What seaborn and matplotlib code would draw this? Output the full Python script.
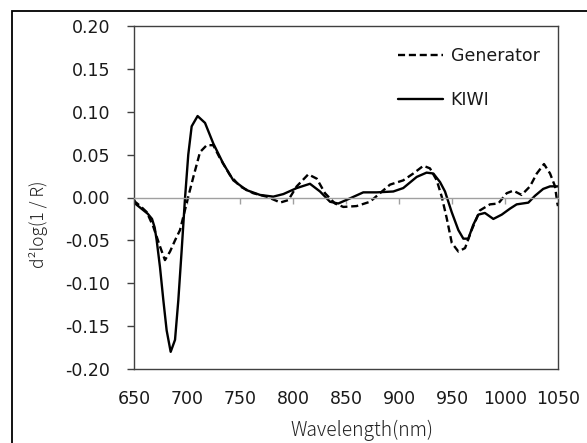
import matplotlib
matplotlib.use("Agg")
import matplotlib.pyplot as plt
import seaborn as sns
import pandas as pd
from matplotlib.patches import Rectangle

wl_kiwi = [650, 651, 655, 659, 663, 667, 669.5, 671.4, 674.5, 677.7, 680.8, 684.6, 688.7,
           691.8, 695, 698, 701.2, 704.4, 710, 717, 724.8, 734, 743.7, 756, 768.9, 781.4,
           790.9, 803.5, 816, 825.5, 835, 842.7, 853.8, 866.3, 879, 894.6, 904, 916.7, 926,
           932.4, 938.7, 943.4, 949.7, 956, 960.7, 965.4, 970, 974.8, 981, 989, 996.9,
           1004.7, 1011, 1022, 1028.3, 1036, 1042.5, 1050]
val_kiwi = [-0.003, -0.007, -0.011, -0.015, -0.019, -0.025, -0.035, -0.050, -0.081, -0.120,
            -0.155, -0.180, -0.166, -0.120, -0.061, -0.003, 0.050, 0.083, 0.095, 0.087,
            0.063, 0.040, 0.020, 0.0087, 0.003, 0.001, 0.004, 0.011, 0.016, 0.007, -0.005,
            -0.007, -0.001, 0.006, 0.006, 0.007, 0.011, 0.024, 0.029, 0.028, 0.018, 0.007,
            -0.017, -0.038, -0.048, -0.048, -0.032, -0.020, -0.018, -0.025, -0.020, -0.013,
            -0.008, -0.006, 0.002, 0.010, 0.013, 0.013]

wl_gen = [650, 651, 656, 662, 668.2, 674.5, 679.2, 684, 688.7, 693.4, 698, 701.2, 706,
          712.3, 718.6, 724.8, 731, 740.6, 750, 762.5, 775, 784.6, 787.7, 795.6, 803.5,
          814.4, 822.4, 830.2, 839.6, 847.5, 860, 872.6, 882, 891.5, 904, 913.5, 923,
          929.2, 935.6, 940.3, 945, 949.8, 956, 962.3, 968.5, 976.4, 985.8, 993.7, 1001.6,
          1007.8, 1015.7, 1023.6, 1030, 1036.8, 1042.5, 1047.2, 1049.4, 1050]
val_gen = [-0.003, -0.005, -0.010, -0.017, -0.034, -0.057, -0.073, -0.063, -0.050, -0.038,
           -0.015, 0.001, 0.024, 0.053, 0.061, 0.061, 0.046, 0.026, 0.013, 0.005, 0.001,
           -0.004, -0.006, -0.003, 0.013, 0.027, 0.022, 0.005, -0.007, -0.011, -0.010,
           -0.005, 0.005, 0.015, 0.020, 0.028, 0.037, 0.034, 0.020, 0.001, -0.024, -0.053,
           -0.063, -0.059, -0.038, -0.015, -0.008, -0.007, 0.005, 0.008, 0.003, 0.013,
           0.028, 0.039, 0.028, 0.013, -0.007, -0.010]

series_names = ["Generator", "KIWI"]
x_ticks = [650, 700, 750, 800, 850, 900, 950, 1000, 1050]
y_ticks = [-0.20, -0.15, -0.10, -0.05, 0.00, 0.05, 0.10, 0.15, 0.20]

df = pd.concat([
    pd.DataFrame({"wl": wl_gen, "val": val_gen, "series": series_names[0]}),
    pd.DataFrame({"wl": wl_kiwi, "val": val_kiwi, "series": series_names[1]}),
])

sns.set_style("white")
plt.rcParams["font.family"] = ["DejaVu Sans"]

fig = plt.figure(figsize=(5.87, 4.43), dpi=100)
ax = fig.add_axes([134/587, 1-369/443, (558-134)/587, (369-26)/443])

sns.lineplot(data=df, x="wl", y="val", style="series", style_order=series_names,
             dashes={"Generator": (3, 1.6), "KIWI": ""}, color="black", linewidth=1.7,
             estimator=None, sort=False, ax=ax)

ax.set_xlim(650, 1050)
ax.set_ylim(-0.20, 0.20)
ax.set_yticks(y_ticks)
ax.set_yticklabels([f"{v:.2f}" for v in y_ticks])
ax.set_xticks(x_ticks)

border = "#404040"
for s in ["top", "left", "right"]:
    ax.spines[s].set_color(border)
    ax.spines[s].set_linewidth(1.0)
ax.spines["bottom"].set_position(("data", 0))
ax.spines["bottom"].set_color("#a0a0a0")
ax.spines["bottom"].set_linewidth(1.0)
ax.tick_params(axis="x", direction="out", length=4.5, color="#a0a0a0", width=1,
               labelbottom=False, bottom=True)
ax.tick_params(axis="y", direction="out", length=5, color=border, width=1,
               labelsize=12.5, labelcolor="#1a1a1a", pad=12, left=True)

sec = ax.secondary_xaxis("bottom")
sec.set_xticks(x_ticks)
sec.set_xticklabels([str(v) for v in x_ticks])
sec.tick_params(length=0, labelsize=12.5, labelcolor="#1a1a1a", pad=15)
sec.spines["bottom"].set_color(border)
sec.spines["bottom"].set_linewidth(1.0)

ax.set_xlabel("")
ax.set_ylabel("")
fig.text(362/587, 1-430/443, "Wavelength(nm)", ha="center", va="center",
         fontsize=13.8, family=["Noto Sans CJK JP", "DejaVu Sans"], weight="light",
         color="#222222")
fig.text(39/587, 1-224/443, "d\u00b2log(1 / R)", ha="center", va="center", rotation=90,
         fontsize=12.5, family=["Noto Sans CJK JP", "DejaVu Sans"], weight="light",
         color="#222222")

leg = ax.legend(loc="upper left", bbox_to_anchor=(0.622, 0.94), frameon=False,
                fontsize=12.5, handlelength=2.6, handletextpad=0.45, labelspacing=1.55,
                borderpad=0, borderaxespad=0)
for t in leg.get_texts():
    t.set_color("#1a1a1a")

fig.add_artist(Rectangle((12/587, -0.1), 1.2, 1.1 - 11/443, transform=fig.transFigure,
                         fill=False, edgecolor="black", linewidth=1.3))

fig.savefig("out.png", dpi=100)
